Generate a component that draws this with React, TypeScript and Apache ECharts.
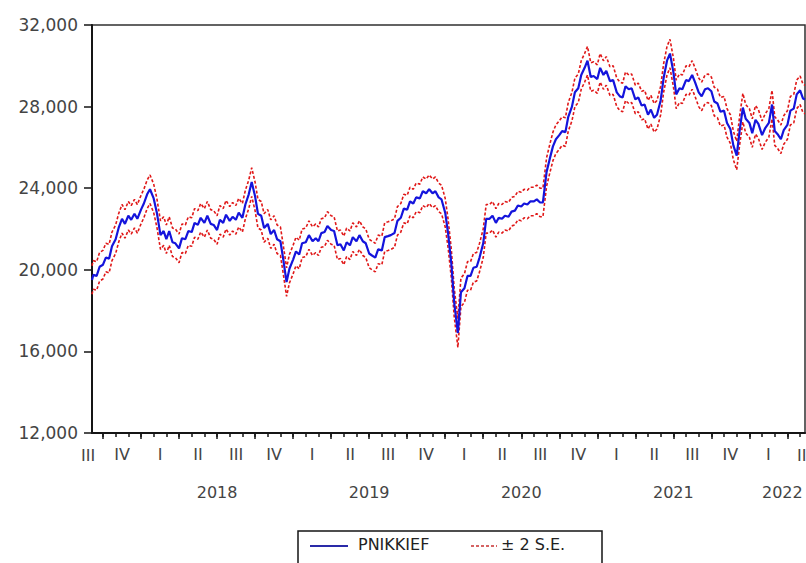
import React, { useEffect, useRef } from "react";
import * as echarts from "echarts";

const dates: string[] = [
  "2017-09-05","2017-09-08","2017-09-16","2017-09-23",
  "2017-10-01","2017-10-08","2017-10-16","2017-10-23",
  "2017-11-01","2017-11-08","2017-11-16","2017-11-23",
  "2017-12-01","2017-12-08","2017-12-16","2017-12-23",
  "2018-01-01","2018-01-08","2018-01-16","2018-01-23",
  "2018-02-01","2018-02-08","2018-02-16","2018-02-23",
  "2018-03-01","2018-03-08","2018-03-16","2018-03-23",
  "2018-04-01","2018-04-08","2018-04-16","2018-04-23",
  "2018-05-01","2018-05-08","2018-05-16","2018-05-23",
  "2018-06-01","2018-06-08","2018-06-16","2018-06-23",
  "2018-07-01","2018-07-08","2018-07-16","2018-07-23",
  "2018-08-01","2018-08-08","2018-08-16","2018-08-23",
  "2018-09-01","2018-09-08","2018-09-16","2018-09-23",
  "2018-10-01","2018-10-08","2018-10-16","2018-10-23",
  "2018-11-01","2018-11-08","2018-11-16","2018-11-23",
  "2018-12-01","2018-12-08","2018-12-16","2018-12-23",
  "2019-01-01","2019-01-08","2019-01-16","2019-01-23",
  "2019-02-01","2019-02-08","2019-02-16","2019-02-23",
  "2019-03-01","2019-03-08","2019-03-16","2019-03-23",
  "2019-04-01","2019-04-08","2019-04-16","2019-04-23",
  "2019-05-01","2019-05-08","2019-05-16","2019-05-23",
  "2019-06-01","2019-06-08","2019-06-16","2019-06-23",
  "2019-07-01","2019-07-08","2019-07-16","2019-07-23",
  "2019-08-01","2019-08-08","2019-08-16","2019-08-23",
  "2019-09-01","2019-09-08","2019-09-16","2019-09-23",
  "2019-10-01","2019-10-08","2019-10-16","2019-10-23",
  "2019-11-01","2019-11-08","2019-11-16","2019-11-23",
  "2019-12-01","2019-12-08","2019-12-16","2019-12-23",
  "2020-01-01","2020-01-08","2020-01-16","2020-01-23",
  "2020-02-01","2020-02-08","2020-02-16","2020-02-23",
  "2020-03-01","2020-03-08","2020-03-16","2020-03-23",
  "2020-04-01","2020-04-08","2020-04-16","2020-04-23",
  "2020-05-01","2020-05-08","2020-05-16","2020-05-23",
  "2020-06-01","2020-06-08","2020-06-16","2020-06-23",
  "2020-07-01","2020-07-08","2020-07-16","2020-07-23",
  "2020-08-01","2020-08-08","2020-08-16","2020-08-23",
  "2020-09-01","2020-09-08","2020-09-16","2020-09-23",
  "2020-10-01","2020-10-08","2020-10-16","2020-10-23",
  "2020-11-01","2020-11-08","2020-11-16","2020-11-23",
  "2020-12-01","2020-12-08","2020-12-16","2020-12-23",
  "2021-01-01","2021-01-08","2021-01-16","2021-01-23",
  "2021-02-01","2021-02-08","2021-02-16","2021-02-23",
  "2021-03-01","2021-03-08","2021-03-16","2021-03-23",
  "2021-04-01","2021-04-08","2021-04-16","2021-04-23",
  "2021-05-01","2021-05-08","2021-05-16","2021-05-23",
  "2021-06-01","2021-06-08","2021-06-16","2021-06-23",
  "2021-07-01","2021-07-08","2021-07-16","2021-07-23",
  "2021-08-01","2021-08-08","2021-08-16","2021-08-23",
  "2021-09-01","2021-09-08","2021-09-16","2021-09-23",
  "2021-10-01","2021-10-08","2021-10-16","2021-10-23",
  "2021-11-01","2021-11-08","2021-11-16","2021-11-23",
  "2021-12-01","2021-12-08","2021-12-16","2021-12-23",
  "2022-01-01","2022-01-08","2022-01-16","2022-01-23",
  "2022-02-01","2022-02-08","2022-02-16","2022-02-23",
  "2022-03-01","2022-03-08","2022-03-16","2022-03-23",
  "2022-04-01","2022-04-08","2022-04-16","2022-04-23",
  "2022-05-01","2022-05-08","2022-05-13",
];

const forecast: number[] = [
  19500, 19750, 19700, 20150,
  20250, 20600, 20550, 21150,
  21500, 22050, 22500, 22250,
  22650, 22450, 22750, 22500,
  22950, 23250, 23700, 23950,
  23500, 22800, 21700, 21900,
  21500, 21900, 21350, 21300,
  21050, 21550, 21500, 21900,
  21850, 22300, 22200, 22550,
  22300, 22650, 22250, 22200,
  21950, 22450, 22300, 22700,
  22400, 22600, 22450, 22800,
  22550, 23200, 23700, 24300,
  23600, 22750, 22650, 22050,
  22250, 21750, 21950, 21500,
  21400, 20500, 19400, 20050,
  20500, 20900, 20750, 21300,
  21350, 21700, 21400, 21550,
  21400, 21800, 21850, 22150,
  21950, 21900, 21200, 21250,
  20950, 21350, 21200, 21600,
  21400, 21700, 21400, 21300,
  20800, 20700, 20600, 21000,
  20950, 21600, 21650, 21700,
  21800, 22400, 22550, 23000,
  22950, 23350, 23250, 23550,
  23500, 23850, 23750, 23950,
  23750, 23850, 23550, 23450,
  22800, 21800, 20300, 18400,
  16900, 18900, 19100, 19700,
  19700, 20100, 20150, 20600,
  21300, 22500, 22500, 22650,
  22300, 22550, 22500, 22650,
  22600, 22850, 22900, 23150,
  23100, 23250, 23200, 23350,
  23350, 23450, 23300, 23300,
  24800, 25400, 26050, 26400,
  26600, 26800, 26750, 27500,
  28000, 28700, 28900, 29550,
  29900, 30250, 29450, 29500,
  29350, 29900, 29550, 29750,
  29250, 29300, 28700, 28500,
  28450, 29000, 28850, 28900,
  28350, 28450, 28050, 28100,
  27600, 27850, 27450, 27600,
  28300, 29400, 30250, 30600,
  29700, 28600, 28900, 28850,
  29300, 29250, 29550, 29200,
  28700, 28500, 28850, 28900,
  28750, 28250, 28150, 27750,
  27800, 27200, 26900, 26100,
  25600, 26800, 27950, 27400,
  27200, 26700, 27350, 27150,
  26600, 26950, 27200, 28100,
  26800, 26650, 26400, 26850,
  27100, 27800, 27900, 28600,
  28800, 28400, 28350,
];

const TWO_SE = 700;

const yMin = 12000;
const yMax = 32000;
const yInterval = 4000;

const quarterNames = ["I", "II", "III", "IV"];
const seriesNames = ["PNIKKIEF", "± 2 S.E."];

const FONT = "DejaVu Sans";
const TEXT = "#444444";
const AXIS = "#151515";
const BLUE = "#1414dc";
const RED = "#e01818";

// months since Jan 2017 (fractional)
function toMonth(s: string): number {
  const [y, m, d] = s.split("-").map(Number);
  const dim = new Date(y, m, 0).getDate();
  return (y - 2017) * 12 + (m - 1) + (d - 1) / dim;
}

export default function App() {
  const ref = useRef<HTMLDivElement>(null);

  useEffect(() => {
    if (!ref.current) return;
    const chart = echarts.init(ref.current, undefined, { renderer: "svg" });

    const xs = dates.map(toMonth);
    const xMin = xs[0];
    const xMax = xs[xs.length - 1];

    const quarterStarts: number[] = [];
    for (let m = 9; m <= 63; m += 3) quarterStarts.push(m);
    const monthStarts: number[] = [];
    for (let m = 9; m <= 64; m++) monthStarts.push(m);
    const quarterCenters: number[] = [];
    for (let m = 10.5; m <= 61.5; m += 3) quarterCenters.push(m);
    const yearCenters = [18, 30, 42, 54, 62.6];

    const center = xs.map((x, i) => [x, forecast[i]]);
    const upper = xs.map((x, i) => [x, forecast[i] + TWO_SE]);
    const lower = xs.map((x, i) => [x, forecast[i] - TWO_SE]);

    const labelFont = { color: TEXT, fontSize: 16, fontFamily: FONT };

    chart.setOption({
      animation: false,
      backgroundColor: "#ffffff",
      grid: {
        left: 92,
        top: 25,
        right: 1,
        bottom: 130,
        show: true,
        borderColor: "#303030",
        borderWidth: 1.5,
        backgroundColor: "transparent",
      },
      xAxis: [
        {
          type: "value",
          min: xMin,
          max: xMax,
          position: "bottom",
          axisLine: { show: true, onZero: false, lineStyle: { color: AXIS, width: 2 } },
          axisTick: {
            show: true,
            inside: false,
            length: 6,
            customValues: quarterStarts,
            lineStyle: { color: AXIS, width: 1.5 },
          },
          axisLabel: {
            show: true,
            customValues: quarterCenters,
            formatter: (v: number) => quarterNames[Math.floor(v / 3) % 4],
            margin: 13,
            ...labelFont,
          },
          splitLine: { show: false },
        },
        {
          type: "value",
          min: xMin,
          max: xMax,
          position: "bottom",
          axisLine: { show: false },
          axisTick: {
            show: true,
            inside: false,
            length: 4,
            customValues: monthStarts,
            lineStyle: { color: AXIS, width: 1.5 },
          },
          axisLabel: {
            show: true,
            customValues: yearCenters,
            formatter: (v: number) => String(2017 + Math.floor(v / 12)),
            margin: 51,
            ...labelFont,
          },
          splitLine: { show: false },
        },
      ],
      yAxis: {
        type: "value",
        min: yMin,
        max: yMax,
        interval: yInterval,
        axisLine: { show: true, lineStyle: { color: AXIS, width: 2 } },
        axisTick: { show: true, inside: false, length: 8, lineStyle: { color: AXIS, width: 1.5 } },
        axisLabel: {
          formatter: (v: number) => v.toLocaleString("en-US"),
          margin: 14,
          color: TEXT,
          fontSize: 17,
          fontFamily: FONT,
          padding: [0, 0, 8, 0],
        },
        splitLine: { show: false },
      },
      series: [
        {
          name: seriesNames[1],
          type: "line",
          data: upper,
          symbol: "none",
          lineStyle: { color: RED, width: 1.6, type: [3, 2] },
          z: 2,
        },
        {
          name: seriesNames[1],
          type: "line",
          data: lower,
          symbol: "none",
          lineStyle: { color: RED, width: 1.6, type: [3, 2] },
          z: 2,
        },
        {
          name: seriesNames[0],
          type: "line",
          data: center,
          symbol: "none",
          lineStyle: { color: BLUE, width: 2.2 },
          z: 3,
        },
      ],
      graphic: [
        { type: "text", left: 81, top: 447, style: { text: "III", font: `16px "${FONT}"`, fill: TEXT } },
        { type: "text", left: 797, top: 447, style: { text: "II", font: `16px "${FONT}"`, fill: TEXT } },
        {
          type: "rect",
          shape: { x: 298, y: 531, width: 304, height: 40 },
          style: { fill: "#ffffff", stroke: "#151515", lineWidth: 1.5 },
        },
        {
          type: "line",
          shape: { x1: 310, y1: 546, x2: 348, y2: 546 },
          style: { stroke: "#2a2aa8", lineWidth: 2 },
        },
        {
          type: "text",
          x: 358,
          y: 544,
          style: { text: seriesNames[0], font: `16px "${FONT}"`, fill: "#222", verticalAlign: "middle" },
        },
        {
          type: "line",
          shape: { x1: 471, y1: 546, x2: 497, y2: 546 },
          style: { stroke: "#c83030", lineWidth: 1.3, lineDash: [3, 2] },
        },
        {
          type: "text",
          x: 501,
          y: 544,
          style: { text: seriesNames[1], font: `16px "${FONT}"`, fill: "#222", verticalAlign: "middle" },
        },
      ],
    });

    return () => chart.dispose();
  }, []);

  return (
    <div
      ref={ref}
      style={{ position: "fixed", left: 0, top: 0, width: 806, height: 563, background: "#fff" }}
    />
  );
}
